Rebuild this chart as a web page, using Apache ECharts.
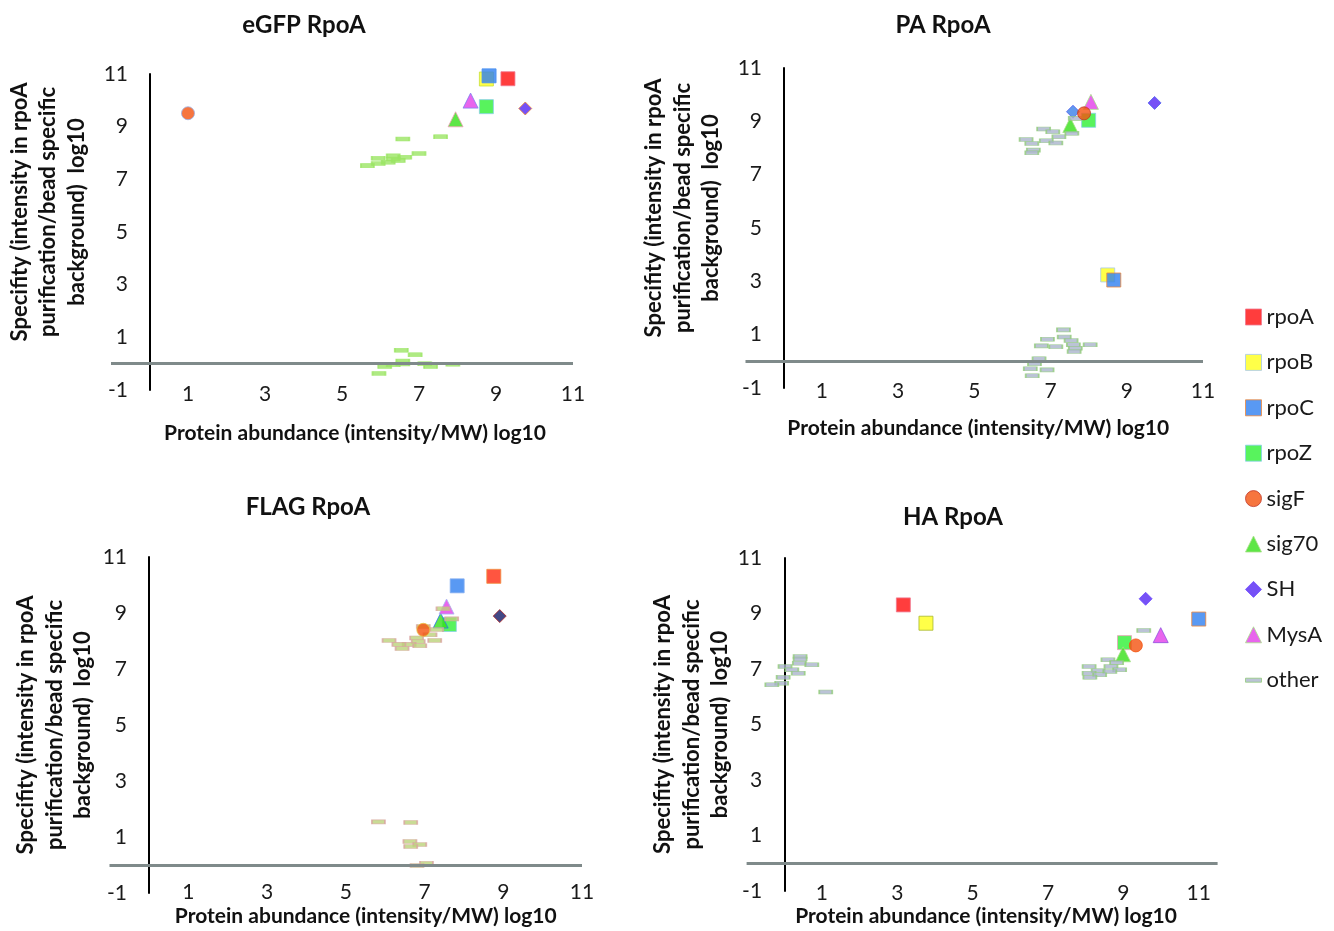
<!DOCTYPE html>
<html lang="en">
<head>
    <meta charset="UTF-8">
    <title>RpoA purifications</title>
    <script type="text/javascript" src="https://cdn.jsdelivr.net/npm/echarts@6/dist/echarts.min.js"></script>
</head>
<body style="margin:0;background:#fff">
    <div id="container" style="width:1334px;height:931px"></div>

    <script type="text/javascript">
        // legend order / protein names
        var proteins = ['rpoA', 'rpoB', 'rpoC', 'rpoZ', 'sigF', 'sig70', 'SH', 'MysA', 'other'];
        var xTicks = [-1, 1, 3, 5, 7, 9, 11];
        var yTicks = [-1, 1, 3, 5, 7, 9, 11];

        // named proteins: [protein, abundance, specificity]
        var egfpKey = [
            ['rpoA', 9.31, 10.82], ['rpoB', 8.75, 10.81], ['rpoC', 8.82, 10.93], ['rpoZ', 8.75, 9.76],
            ['sigF', 1.0, 9.51], ['sig70', 7.95, 9.28], ['SH', 9.76, 9.69], ['MysA', 8.34, 9.99]
        ];
        var egfpOther = [
            [6.58, 8.53], [7.56, 8.62], [7.0, 7.98], [6.63, 7.84], [6.33, 7.89], [6.33, 7.77], [5.94, 7.8],
            [6.2, 7.65], [5.94, 7.6], [5.66, 7.52], [6.46, 7.72], [6.54, 0.51], [6.9, 0.34], [6.58, 0.1],
            [6.58, -0.01], [6.33, -0.04], [6.11, -0.11], [5.96, -0.37], [7.15, 0], [7.3, -0.11], [7.88, -0.02]
        ];

        var paKey = [
            ['rpoA', 9.47, 11.02], ['rpoB', 8.5, 3.24], ['rpoC', 8.66, 3.05], ['rpoZ', 8.0, 9.04],
            ['SH', 9.73, 9.69], ['SH', 7.59, 9.36], ['sigF', 7.88, 9.3], ['sig70', 7.52, 8.86], ['MysA', 8.06, 9.73]
        ];
        var paOther = [
            [7.65, 9.11], [7.56, 8.55], [6.82, 8.71], [7.06, 8.61], [7.22, 8.42], [6.36, 8.32], [6.89, 8.27],
            [7.14, 8.19], [6.51, 8.17], [6.55, 7.92], [6.51, 7.82], [7.34, 1.18], [6.92, 0.83], [7.36, 0.91],
            [7.54, 0.78], [6.76, 0.58], [7.14, 0.55], [7.6, 0.62], [8.04, 0.62], [7.65, 0.49], [7.62, 0.37],
            [6.7, 0.1], [6.58, -0.09], [6.47, -0.28], [6.91, -0.32], [6.52, -0.54]
        ];

        var flagKey = [
            ['rpoA', 8.76, 10.31], ['rpoC', 7.83, 9.97], ['rpoZ', 7.63, 8.59], ['sigF', 6.97, 8.4],
            ['sig70', 7.41, 8.73], ['SH', 8.91, 8.89], ['MysA', 7.56, 9.23]
        ];
        var flagOther = [
            [7.47, 9.15], [7.69, 8.79], [7.31, 8.41], [7.14, 8.22], [6.8, 8.11], [7.26, 8.02], [6.1, 8.02],
            [6.84, 7.98], [6.61, 7.88], [6.35, 7.88], [6.88, 7.83], [6.43, 7.73], [6.97, 8.52], [5.83, 1.54],
            [6.65, 1.52], [6.63, 0.84], [6.88, 0.73], [6.65, 0.66], [7.05, 0.06], [6.81, -0.02]
        ];

        var haKey = [
            ['rpoA', 3.16, 9.31], ['rpoB', 3.76, 8.65], ['rpoC', 11.0, 8.8], ['rpoZ', 9.03, 7.95],
            ['sigF', 9.33, 7.85], ['sig70', 8.99, 7.53], ['SH', 9.59, 9.53], ['MysA', 9.99, 8.22]
        ];
        var haOther = [
            [9.54, 8.39], [8.59, 7.33], [8.82, 7.23], [8.67, 7.09], [8.09, 7.09], [8.9, 6.97], [8.33, 6.94],
            [8.64, 6.91], [8.09, 6.85], [8.37, 6.79], [8.11, 6.7], [0.42, 7.45], [0.42, 7.36], [0.4, 7.21],
            [0.73, 7.15], [0.02, 7.09], [0.2, 6.97], [0.37, 6.85], [-0.03, 6.7], [-0.07, 6.49], [-0.33, 6.43],
            [1.1, 6.17]
        ];

        var FONT = 'Lato, "Open Sans", sans-serif';
        var xName = 'Protein abundance (intensity/MW) log10';
        var yName = 'Specifity (intensity in rpoA\npurification/bead specific\nbackground)  log10';

        var shapes = {
            rpoA: ['rect', 14], rpoB: ['rect', 14], rpoC: ['rect', 14], rpoZ: ['rect', 14],
            sigF: ['circle', 13], sig70: ['triangle', 15], SH: ['diamond', 13], MysA: ['triangle', 15],
            other: ['rect', [13, 4]]
        };
        var baseStyle = {
            rpoA: {color: '#ff0d0d', borderColor: '#f07890'},
            rpoB: {color: '#ffff1a', borderColor: '#a8c8ec'},
            rpoC: {color: '#2f7ff0', borderColor: '#f0883a'},
            rpoZ: {color: '#2ef034', borderColor: '#88d0e8'},
            sigF: {color: '#f4520f', borderColor: '#c0392b'},
            sig70: {color: '#36e018', borderColor: '#a8e088'},
            SH: {color: '#5426f4', borderColor: '#6c48ff'},
            MysA: {color: '#e23ee8', borderColor: '#a8e488'},
            other: {color: '#aab4cc', borderColor: '#92cc7a'}
        };

        var panels = [
            {title: 'eGFP RpoA', key: egfpKey, other: egfpOther, tx: 304, ty: 25,
             grid: {left: 111, top: 74, width: 462, height: 316}, xMax: 11,
             labelMargin: -6, yLabelMargin: -17, xGap: 33, xShift: 13, yGap: 20, yShift: 20,
             style: {other: {color: '#9be564', borderColor: '#9be564'}, SH: {borderColor: '#f08a30'},
                     sigF: {borderColor: '#98b0e8'}, rpoB: {borderColor: '#c8e03a'}, sig70: {borderColor: '#f0a0b8'},
                     rpoC: {borderColor: '#4a90f0'}, MysA: {borderColor: '#8080f0'}}},
            {title: 'PA RpoA', key: paKey, other: paOther, tx: 943, ty: 25,
             grid: {left: 745.5, top: 68, width: 457.5, height: 320}, xMax: 11,
             labelMargin: -7, yLabelMargin: -16.5, xGap: 30, xShift: 4, yGap: 20, yShift: 20,
             style: {}},
            {title: 'FLAG RpoA', key: flagKey, other: flagOther, tx: 308, ty: 507,
             grid: {left: 109.5, top: 557, width: 472.5, height: 336}, xMax: 11,
             labelMargin: -11, yLabelMargin: -17.5, xGap: 13, xShift: 20, yGap: 12, yShift: 0,
             style: {other: {color: '#bcd27a', borderColor: '#d8a4a0'}, SH: {color: '#141a66', borderColor: '#b02a2a'},
                     sig70: {borderColor: '#2f6ff0'}, MysA: {borderColor: '#a8b8f4'}, sigF: {borderColor: '#e8c040'},
                     rpoA: {color: '#ff2a10', borderColor: '#f09040'}, rpoC: {borderColor: '#88b0f0'}}},
            {title: 'HA RpoA', key: haKey, other: haOther, tx: 953, ty: 517,
             grid: {left: 746.6, top: 558, width: 471, height: 333}, xMax: 11.5,
             labelMargin: -8, yLabelMargin: -15.5, xGap: 15, xShift: 4, yGap: 12, yShift: 0,
             style: {rpoB: {borderColor: '#a8b830'}, rpoZ: {borderColor: '#e8a0b8'},
                     sigF: {borderColor: '#f4520f'}, MysA: {borderColor: '#9050e0'}}}
        ];

        var titles = [], grids = [], xAxes = [], yAxes = [], series = [];

        panels.forEach(function (p, i) {
            titles.push({
                text: p.title, left: p.tx, top: p.ty, textAlign: 'center', textVerticalAlign: 'middle', padding: 0,
                textStyle: {fontFamily: FONT, fontSize: 24, fontWeight: 'bold', color: '#111'}
            });
            grids.push(Object.assign({outerBoundsMode: 'none', containLabel: false}, p.grid));
            xAxes.push({
                gridIndex: i, type: 'value', min: -1, max: p.xMax, interval: 2,
                axisLine: {show: false, onZero: false}, axisTick: {show: false}, splitLine: {show: false},
                axisLabel: {
                    margin: p.labelMargin, fontFamily: FONT, fontSize: 21, color: '#1a1a1a',
                    formatter: function (v) { return (xTicks.indexOf(v) > 0) ? String(v) : ''; }
                },
                name: xName, nameLocation: 'middle', nameGap: p.xGap, nameMoveOverlap: false,
                nameTextStyle: {fontFamily: FONT, fontSize: 21, fontWeight: 'bold', color: '#111',
                                padding: [0, 0, 0, p.xShift * 2]}
            });
            yAxes.push({
                gridIndex: i, type: 'value', min: -1, max: 11, interval: 2,
                axisLine: {show: true, onZero: true, lineStyle: {color: '#000', width: 2}},
                axisTick: {show: false}, splitLine: {show: false},
                axisLabel: {
                    margin: p.yLabelMargin, fontFamily: FONT, fontSize: 21, color: '#1a1a1a',
                    formatter: function (v) { return (yTicks.indexOf(v) >= 0) ? String(v) : ''; }
                },
                name: yName, nameLocation: 'middle', nameGap: p.yGap, nameRotate: 90, nameMoveOverlap: false,
                nameTextStyle: {fontFamily: FONT, fontSize: 22, fontWeight: 'bold', color: '#111',
                                lineHeight: 28.5, padding: [0, 0, 0, p.yShift * 2]}
            });

            proteins.forEach(function (name) {
                var pts = name === 'other' ? p.other
                    : p.key.filter(function (d) { return d[0] === name; }).map(function (d) { return [d[1], d[2]]; });
                if (!pts.length) return;
                var st = Object.assign({borderWidth: 1}, baseStyle[name], p.style[name] || {});
                if (p.title === 'PA RpoA' && name === 'SH') {
                    // second diamond in the PA cluster is drawn in rpoC blue
                    st.color = function (q) { return q.value[0] < 9 ? '#3a7fe8' : '#5426f4'; };
                    st.borderColor = '#5060f0';
                }
                var s = {
                    type: 'scatter', name: name, xAxisIndex: i, yAxisIndex: i,
                    symbol: shapes[name][0], symbolSize: shapes[name][1],
                    itemStyle: st, data: pts, z: name === 'sigF' ? 3 : 2
                };
                if (name === 'other') {
                    s.markLine = {
                        silent: true, symbol: 'none', label: {show: false},
                        lineStyle: {color: '#7f8a8a', width: 3, type: 'solid'},
                        data: [{yAxis: 0}]
                    };
                }
                series.push(s);
            });
        });

        var legendIcons = {
            rpoA: 'rect', rpoB: 'rect', rpoC: 'rect', rpoZ: 'rect', sigF: 'circle', sig70: 'triangle',
            SH: 'diamond', MysA: 'triangle', other: 'path://M0,0H20V5H0Z'
        };

        var myChart = echarts.init(document.getElementById('container'), null, {renderer: 'canvas'});
        var option = {
            animation: false,
            backgroundColor: '#fff',
            title: titles,
            grid: grids,
            xAxis: xAxes,
            yAxis: yAxes,
            legend: {
                orient: 'vertical', left: 1245, top: 306, itemWidth: 16, itemHeight: 16, itemGap: 23.4,
                selectedMode: false, padding: 0,
                textStyle: {fontFamily: FONT, fontSize: 22, lineHeight: 20, color: '#1a1a1a'},
                data: proteins.map(function (n) {
                    return {name: n, icon: legendIcons[n],
                            itemStyle: Object.assign({borderWidth: 1}, baseStyle[n])};
                })
            },
            series: series
        };
        myChart.setOption(option);
    </script>
</body>
</html>
